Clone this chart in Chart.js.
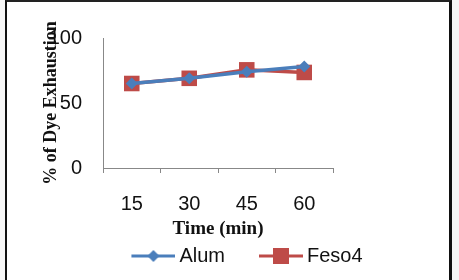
<!DOCTYPE html>
<html>
<head>
<meta charset="utf-8">
<script src="https://cdn.jsdelivr.net/npm/chart.js@4.4.1/dist/chart.umd.min.js"></script>
<style>
  html, body { margin: 0; padding: 0; background: #f6f6f6; }
  #wrap { position: absolute; left: 0; top: 0; width: 459px; height: 280px; }
  #frame { position: absolute; left: 5px; top: 0; width: 442px; height: 280px;
           border-left: 2px solid #111; border-top: 2px solid #222; border-right: 3px solid #111;
           background: #fff; box-sizing: content-box; }
  canvas { position: absolute; left: 0; top: 0; }
</style>
</head>
<body>
<div id="wrap">
  <div id="frame"></div>
  <canvas id="myChart" width="459" height="280"></canvas>
</div>
<script>
const times = ["15", "30", "45", "60"]
const alum = [65, 69, 74, 78]
const feso4 = [65, 69, 75.5, 73.5]
const yTicks = [0, 50, 100]

const blue = "#4A7EBB"
const red = "#BE4B48"

// legend swatch: line with marker, like the office legend
// image is wider than the legend box so the line sits close to the text
function swatch(color, shape) {
    const c = document.createElement("canvas")
    c.width = 74
    c.height = 18
    const ctx = c.getContext("2d")
    ctx.strokeStyle = color
    ctx.lineWidth = 3
    ctx.beginPath()
    ctx.moveTo(30, 9)
    ctx.lineTo(74, 9)
    ctx.stroke()
    ctx.fillStyle = color
    if (shape === "diamond") {
        ctx.beginPath()
        ctx.moveTo(52, 3)
        ctx.lineTo(58, 9)
        ctx.lineTo(52, 15)
        ctx.lineTo(46, 9)
        ctx.closePath()
        ctx.fill()
    } else {
        ctx.fillRect(44, 1, 16, 16)
    }
    return c
}

// move the legend row to the right, where the original sits
const legendShift = {
    id: "legendShift",
    afterLayout(chart) {
        chart.legend.left += 50
        chart.legend.right += 50
    }
}

const chartEl = document.getElementById("myChart")

const chart = new Chart(chartEl, {
    type: "line",
    data: {
        labels: times,
        datasets: [
            {
                label: "Alum",
                data: alum,
                borderColor: blue,
                backgroundColor: blue,
                borderWidth: 3.5,
                pointStyle: "rectRot",
                pointRadius: 6,
                pointBorderWidth: 0,
                tension: 0,
            },
            {
                label: "Feso4",
                data: feso4,
                borderColor: red,
                backgroundColor: red,
                borderWidth: 3.5,
                pointStyle: "rect",
                pointRadius: 11,
                pointBorderWidth: 0,
                tension: 0,
            },
        ]
    },
    plugins: [legendShift],
    options: {
        responsive: false,
        animation: false,
        layout: {
            padding: { left: 37, right: 126, top: 38, bottom: 4 }
        },
        scales: {
            x: {
                offset: true,
                afterFit(scale) { scale.height = 68 },
                grid: {
                    display: true,
                    drawOnChartArea: false,
                    offset: true,
                    tickLength: 5,
                    color: "#888",
                },
                border: { color: "#888", width: 1 },
                ticks: {
                    color: "#111",
                    padding: 19,
                    font: { family: "Liberation Sans", size: 20 }
                },
                title: {
                    display: true,
                    text: "Time (min)",
                    color: "#111",
                    padding: { top: 0, bottom: -4.4 },
                    font: { family: "Liberation Serif", size: 19, weight: "bold" }
                }
            },
            y: {
                min: 0,
                max: 100,
                afterFit(scale) { scale.width = 66 },
                afterBuildTicks(scale) {
                    scale.ticks = yTicks.map(v => ({ value: v }))
                },
                grid: { display: false, drawTicks: false },
                border: { color: "#888", width: 1 },
                ticks: {
                    color: "#111",
                    padding: 21,
                    font: { family: "Liberation Sans", size: 20 }
                },
                title: {
                    display: true,
                    text: "% of Dye Exhaustion",
                    color: "#111",
                    padding: { top: 4, bottom: 0 },
                    font: { family: "Liberation Serif", size: 18, weight: "bold" }
                }
            }
        },
        plugins: {
            legend: {
                position: "bottom",
                labels: {
                    color: "#111",
                    font: { family: "Liberation Sans", size: 20 },
                    boxHeight: 18,
                    pointStyleWidth: 62,
                    padding: 10,
                    usePointStyle: true,
                    generateLabels(ch) {
                        return ch.data.datasets.map((ds, i) => ({
                            text: ds.label,
                            fontColor: "#111",
                            pointStyle: swatch(ds.borderColor, i === 0 ? "diamond" : "square"),
                            datasetIndex: i,
                            lineWidth: 0,
                            strokeStyle: "transparent",
                            fillStyle: "transparent",
                        }))
                    }
                }
            },
            tooltip: { enabled: false }
        }
    }
})
</script>
</body>
</html>
